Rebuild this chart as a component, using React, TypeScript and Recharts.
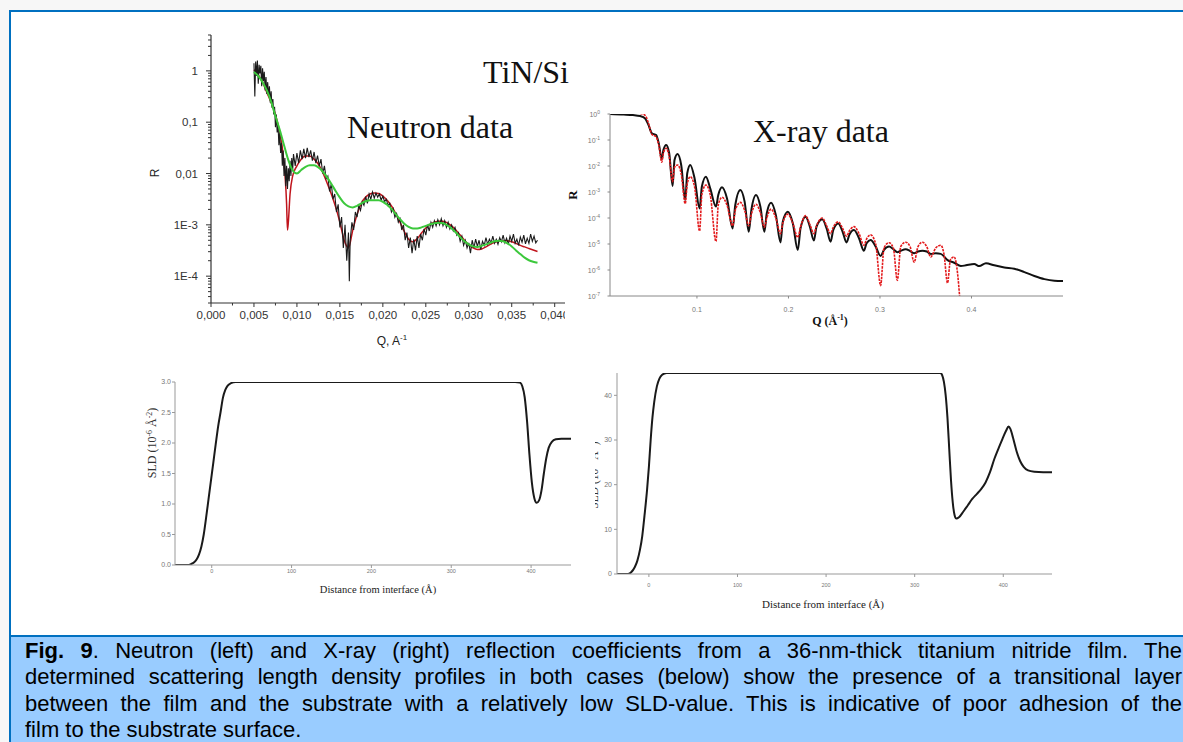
import React from "react";
import { LineChart, Line, XAxis, YAxis } from "recharts";

const SANS = "'Liberation Sans', Arial, sans-serif";
const SERIF = "'Liberation Serif', 'Times New Roman', serif";
const FRAME_BLUE = "#0070c0";
const CAPTION_BG = "#99ccff";

// ---- neutron reflectivity: [Q (1/A), log10 R] ----
const NEUTRON_MEASURED: [number, number][] = [
  [0.005, 0.15], [0.0051, -0.5], [0.0052, 0.18], [0.0053, -0.1], [0.0054, 0.2],
  [0.0055, -0.25], [0.0056, 0.12], [0.0057, -0.05], [0.0058, 0.1], [0.0059, -0.3],
  [0.006, 0.05], [0.0061, -0.2], [0.0062, -0.02], [0.0063, -0.38], [0.0064, -0.12],
  [0.0065, -0.45], [0.0066, -0.22], [0.0067, -0.5], [0.0068, -0.3], [0.0069, -0.62],
  [0.007, -0.4], [0.0071, -0.72], [0.0072, -0.55], [0.0073, -0.85], [0.0074, -0.7],
  [0.0075, -1.1], [0.0076, -0.85], [0.0077, -1.2], [0.0078, -1.05], [0.0079, -1.45],
  [0.008, -1.2], [0.0081, -1.6], [0.0082, -1.4], [0.0083, -1.85], [0.0084, -1.55],
  [0.0085, -2.05], [0.0086, -1.7], [0.0087, -2.25], [0.0088, -1.85], [0.0089, -2.3],
  [0.009, -1.9], [0.0091, -2.15], [0.0092, -1.75], [0.0093, -2.05], [0.0094, -1.7],
  [0.0095, -1.95], [0.0096, -1.62], [0.0098, -1.85], [0.01, -1.6], [0.0102, -1.8],
  [0.0104, -1.55], [0.0106, -1.72], [0.0108, -1.52], [0.011, -1.7], [0.0112, -1.5],
  [0.0114, -1.68], [0.0116, -1.55], [0.0118, -1.75], [0.012, -1.58], [0.0122, -1.8],
  [0.0124, -1.65], [0.0126, -1.85], [0.0128, -1.72], [0.013, -2.0], [0.0132, -1.85],
  [0.0134, -2.1], [0.0136, -2.05], [0.0138, -2.35], [0.014, -2.2], [0.0142, -2.5],
  [0.0144, -2.4], [0.0146, -2.75], [0.0148, -2.6], [0.015, -3.05], [0.0152, -2.85],
  [0.0154, -3.45], [0.0156, -3.0], [0.0158, -3.7], [0.016, -3.15], [0.0161, -4.1],
  [0.0162, -3.3], [0.0164, -2.95], [0.0166, -3.1], [0.0168, -2.75], [0.017, -2.85],
  [0.0172, -2.62], [0.0174, -2.72], [0.0176, -2.55], [0.0178, -2.62], [0.018, -2.45],
  [0.0182, -2.58], [0.0184, -2.4], [0.0186, -2.5], [0.0188, -2.36], [0.019, -2.48],
  [0.0192, -2.38], [0.0194, -2.46], [0.0196, -2.4], [0.0198, -2.52], [0.02, -2.44],
  [0.0202, -2.55], [0.0204, -2.5], [0.0206, -2.62], [0.0208, -2.58], [0.021, -2.75],
  [0.0212, -2.68], [0.0214, -2.85], [0.0216, -2.78], [0.0218, -2.95], [0.022, -2.88],
  [0.0222, -3.1], [0.0224, -3.0], [0.0226, -3.3], [0.0228, -3.15], [0.023, -3.45],
  [0.0232, -3.25], [0.0234, -3.55], [0.0236, -3.28], [0.0238, -3.5], [0.024, -3.22],
  [0.0242, -3.45], [0.0244, -3.18], [0.0246, -3.3], [0.0248, -3.08], [0.025, -3.2],
  [0.0252, -3.0], [0.0254, -3.12], [0.0256, -2.95], [0.0258, -3.05], [0.026, -2.92],
  [0.0262, -3.02], [0.0264, -2.9], [0.0266, -3.0], [0.0268, -2.88], [0.027, -3.02],
  [0.0272, -2.92], [0.0274, -3.05], [0.0276, -2.95], [0.0278, -3.08], [0.028, -3.0],
  [0.0282, -3.12], [0.0284, -3.05], [0.0286, -3.2], [0.0288, -3.15], [0.029, -3.32],
  [0.0292, -3.22], [0.0294, -3.4], [0.0296, -3.3], [0.0298, -3.45], [0.03, -3.35],
  [0.0302, -3.55], [0.0304, -3.3], [0.0306, -3.45], [0.0308, -3.28], [0.031, -3.42],
  [0.0312, -3.3], [0.0314, -3.48], [0.0316, -3.32], [0.0318, -3.4], [0.032, -3.25],
  [0.0322, -3.38], [0.0324, -3.28], [0.0326, -3.35], [0.0328, -3.22], [0.033, -3.36],
  [0.0332, -3.28], [0.0334, -3.38], [0.0336, -3.25], [0.0338, -3.33], [0.034, -3.2],
  [0.0342, -3.35], [0.0344, -3.26], [0.0346, -3.38], [0.0348, -3.22], [0.035, -3.32],
  [0.0352, -3.18], [0.0354, -3.36], [0.0356, -3.28], [0.0358, -3.4], [0.036, -3.24],
  [0.0362, -3.34], [0.0364, -3.2], [0.0366, -3.37], [0.0368, -3.26], [0.037, -3.36],
  [0.0372, -3.18], [0.0374, -3.32], [0.0376, -3.22], [0.0378, -3.35], [0.038, -3.3],
];

const NEUTRON_FIT_RED: [number, number][] = [
  [0.005, 0.02], [0.0055, -0.08], [0.006, -0.22], [0.0065, -0.42], [0.007, -0.62],
  [0.0075, -0.85], [0.008, -1.2], [0.0083, -1.5], [0.0086, -2.0], [0.0088, -2.6],
  [0.0089, -3.1], [0.009, -2.95], [0.0092, -2.4], [0.0095, -2.05], [0.01, -1.85],
  [0.0105, -1.72], [0.011, -1.66], [0.0115, -1.66], [0.012, -1.72], [0.0125, -1.82],
  [0.013, -1.98], [0.0135, -2.18], [0.014, -2.4], [0.0145, -2.65], [0.015, -2.95],
  [0.0155, -3.3], [0.016, -3.45], [0.0165, -3.1], [0.017, -2.8], [0.0175, -2.58],
  [0.018, -2.46], [0.0185, -2.4], [0.019, -2.38], [0.0195, -2.39], [0.02, -2.44],
  [0.0205, -2.52], [0.021, -2.63], [0.0215, -2.78], [0.022, -2.95], [0.0225, -3.13],
  [0.023, -3.28], [0.0235, -3.33], [0.024, -3.27], [0.0245, -3.16], [0.025, -3.06],
  [0.0255, -2.99], [0.026, -2.95], [0.0265, -2.93], [0.027, -2.93], [0.0275, -2.96],
  [0.028, -3.02], [0.0285, -3.1], [0.029, -3.2], [0.0295, -3.3], [0.03, -3.39],
  [0.0305, -3.45], [0.031, -3.48], [0.0315, -3.47], [0.032, -3.43], [0.0325, -3.38],
  [0.033, -3.34], [0.0335, -3.32], [0.034, -3.31], [0.0345, -3.31], [0.035, -3.33],
  [0.0355, -3.36], [0.036, -3.4], [0.0365, -3.43], [0.037, -3.46], [0.0375, -3.49],
  [0.038, -3.52],
];

const NEUTRON_FIT_GREEN: [number, number][] = [
  [0.005, -0.02], [0.0055, -0.1], [0.006, -0.22], [0.0065, -0.38], [0.007, -0.6],
  [0.0075, -0.88], [0.008, -1.15], [0.0085, -1.45], [0.009, -1.74], [0.0095, -1.94],
  [0.01, -2.0], [0.0105, -1.93], [0.011, -1.87], [0.0115, -1.84], [0.012, -1.84],
  [0.0125, -1.88], [0.013, -1.96], [0.0135, -2.07], [0.014, -2.2], [0.0145, -2.34],
  [0.015, -2.47], [0.0155, -2.58], [0.016, -2.64], [0.0165, -2.66], [0.017, -2.63],
  [0.0175, -2.58], [0.018, -2.54], [0.0185, -2.52], [0.019, -2.52], [0.0195, -2.52],
  [0.02, -2.55], [0.0205, -2.61], [0.021, -2.69], [0.0215, -2.79], [0.022, -2.89],
  [0.0225, -2.98], [0.023, -3.04], [0.0235, -3.07], [0.024, -3.07], [0.0245, -3.05],
  [0.025, -3.02], [0.0255, -2.99], [0.026, -2.97], [0.0265, -2.96], [0.027, -2.97],
  [0.0275, -3.01], [0.028, -3.07], [0.0285, -3.15], [0.029, -3.24], [0.0295, -3.32],
  [0.03, -3.38], [0.0305, -3.42], [0.031, -3.43], [0.0315, -3.41], [0.032, -3.38],
  [0.0325, -3.35], [0.033, -3.32], [0.0335, -3.31], [0.034, -3.32], [0.0345, -3.36],
  [0.035, -3.42], [0.0355, -3.5], [0.036, -3.57], [0.0365, -3.64], [0.037, -3.69],
  [0.0375, -3.72], [0.038, -3.74],
];

const NEUTRON_Q_TICKS = [
  0, 0.0025, 0.005, 0.0075, 0.01, 0.0125, 0.015, 0.0175, 0.02,
  0.0225, 0.025, 0.0275, 0.03, 0.0325, 0.035, 0.0375, 0.04,
];
const NEUTRON_R_DECADES = [-5, -4, -3, -2, -1, 0];
const NEUTRON_R_LABELS: Record<number, string> = {
  [-4]: "1E-4", [-3]: "1E-3", [-2]: "0,01", [-1]: "0,1", 0: "1",
};

// ---- X-ray reflectivity: [Q (1/A), log10 R] ----
const XRAY_FIT: [number, number][] = [
  [0.005, 0.0], [0.02, -0.02], [0.03, -0.04], [0.038, -0.08], [0.0434, -0.17],
  [0.047, -0.42], [0.0507, -0.74], [0.0554, -0.81], [0.0583, -1.13], [0.0616, -1.74],
  [0.0634, -1.38], [0.0664, -1.19], [0.0697, -1.51], [0.0734, -2.77], [0.0755, -1.77],
  [0.0788, -1.54], [0.0828, -1.96], [0.0872, -3.31], [0.0894, -2.28], [0.0927, -1.96],
  [0.0974, -2.47], [0.1029, -3.63], [0.1054, -2.79], [0.1098, -2.41], [0.1145, -2.86],
  [0.1208, -3.56], [0.1233, -3.12], [0.1274, -2.82], [0.1328, -3.24], [0.139, -4.4],
  [0.1419, -3.5], [0.1474, -2.92], [0.1521, -3.37], [0.1566, -4.53], [0.1595, -3.69],
  [0.1646, -3.12], [0.1693, -3.56], [0.1737, -4.53], [0.1763, -3.82], [0.181, -3.41],
  [0.1862, -3.88], [0.1913, -4.94], [0.1938, -4.14], [0.1993, -3.76], [0.2048, -4.21],
  [0.2102, -5.23], [0.2132, -4.4], [0.2187, -3.95], [0.2234, -4.33], [0.2278, -4.87],
  [0.2307, -4.33], [0.2369, -4.05], [0.2417, -4.4], [0.246, -4.91], [0.249, -4.46],
  [0.2544, -4.21], [0.2592, -4.53], [0.2635, -4.94], [0.2665, -4.65], [0.2716, -4.46],
  [0.2771, -4.78], [0.2825, -5.26], [0.2854, -4.97], [0.2898, -4.85], [0.2953, -5.1],
  [0.3007, -5.46], [0.3044, -5.23], [0.3099, -5.1], [0.3146, -5.2], [0.319, -5.32],
  [0.3227, -5.26], [0.3281, -5.2], [0.3329, -5.27], [0.3373, -5.36], [0.3416, -5.29],
  [0.3464, -5.26], [0.3511, -5.29], [0.3555, -5.38], [0.361, -5.36], [0.3664, -5.38],
  [0.3738, -5.62], [0.3811, -5.72], [0.3884, -5.85], [0.3939, -5.82], [0.403, -5.77],
  [0.4085, -5.85], [0.4158, -5.74], [0.4249, -5.82], [0.4359, -5.9], [0.4468, -5.95],
  [0.4578, -6.08], [0.4687, -6.23], [0.4797, -6.35], [0.4906, -6.41], [0.5, -6.42],
];

const XRAY_MEASURED: [number, number][] = [
  [0.038, 0.02], [0.0434, -0.05], [0.047, -0.35], [0.0507, -0.78], [0.0554, -0.88],
  [0.0583, -1.2], [0.0616, -1.85], [0.0634, -1.5], [0.0664, -1.32], [0.0697, -1.65],
  [0.0734, -2.6], [0.0755, -2.05], [0.0788, -1.96], [0.0828, -2.3], [0.0872, -3.45],
  [0.0894, -2.7], [0.0927, -2.41], [0.0974, -2.8], [0.1029, -4.5], [0.1054, -3.1],
  [0.1098, -2.73], [0.1145, -3.1], [0.1208, -4.9], [0.1233, -3.5], [0.1274, -3.2],
  [0.1328, -3.5], [0.139, -4.3], [0.1419, -3.7], [0.1474, -3.4], [0.1521, -3.7],
  [0.1566, -4.3], [0.1595, -3.85], [0.1646, -3.47], [0.1693, -3.8], [0.1737, -4.35],
  [0.1763, -4.0], [0.181, -3.66], [0.1862, -4.0], [0.1913, -4.6], [0.1938, -4.2],
  [0.1993, -3.85], [0.2048, -4.2], [0.2102, -4.75], [0.2132, -4.35], [0.2187, -3.91],
  [0.2234, -4.25], [0.2278, -4.6], [0.2307, -4.3], [0.2369, -4.0], [0.2417, -4.3],
  [0.246, -4.6], [0.249, -4.35], [0.2544, -4.15], [0.2592, -4.4], [0.2635, -4.7],
  [0.2665, -4.5], [0.2716, -4.33], [0.2771, -4.6], [0.2825, -5.05], [0.2854, -4.8],
  [0.2898, -4.65], [0.2953, -5.0], [0.3007, -6.6], [0.3044, -5.15], [0.3099, -4.95],
  [0.3146, -5.15], [0.319, -6.4], [0.3227, -5.1], [0.3281, -4.93], [0.3329, -5.1],
  [0.3373, -5.7], [0.3416, -5.1], [0.3464, -4.93], [0.3511, -5.1], [0.3555, -5.5],
  [0.361, -5.15], [0.3664, -5.05], [0.37, -5.4], [0.3738, -6.5], [0.377, -5.6],
  [0.3811, -5.5], [0.385, -6.2], [0.387, -7.0],
];

const XRAY_Q_TICKS = [0.1, 0.2, 0.3, 0.4];
const XRAY_R_TICKS = [1e-7, 1e-6, 1e-5, 1e-4, 1e-3, 1e-2, 1e-1, 1];

// ---- SLD profiles: [distance (A), SLD] ----
const SLD_NEUTRON: [number, number][] = [
  [-46, 0], [-30, 0.0], [-26, 0.015], [-22, 0.045], [-19, 0.09], [-16, 0.17],
  [-13, 0.3], [-10, 0.5], [-7, 0.78], [-4, 1.08], [-1, 1.38], [2, 1.68], [5, 1.98],
  [8, 2.27], [11, 2.5], [14, 2.74], [17, 2.87], [20, 2.94], [24, 2.98], [30, 3.0],
  [380, 3.0], [386, 2.99], [389, 2.93], [392, 2.75], [395, 2.35], [398, 1.8],
  [401, 1.35], [404, 1.1], [407, 1.02], [410, 1.06], [413, 1.22], [416, 1.5],
  [419, 1.75], [422, 1.92], [426, 2.02], [431, 2.06], [438, 2.07], [450, 2.07],
];
const SLD_NEUTRON_TICKS_X = [0, 100, 200, 300, 400];
const SLD_NEUTRON_TICKS_Y = [0, 0.5, 1, 1.5, 2, 2.5, 3];

const SLD_XRAY: [number, number][] = [
  [-36, 0], [-24, 0], [-20, 0.4], [-16, 1.5], [-13, 3], [-10, 5.5], [-7.5, 8.5],
  [-5, 13], [-2, 19], [0, 24], [2, 30], [4, 35], [6, 38.5], [9, 42], [12, 43.8],
  [15, 44.6], [20, 45], [329, 45], [331, 44.5], [333, 43], [335, 40], [337, 35],
  [339, 28], [341, 21], [343, 16], [345, 13.2], [347, 12.4], [350, 12.7], [355, 14],
  [360, 15.4], [365, 16.8], [370, 17.9], [375, 19], [380, 20.5], [385, 22.8],
  [390, 25.8], [395, 28.3], [399, 30.2], [403, 32], [406, 33], [408, 32.5],
  [411, 30.5], [415, 27.5], [419, 25.3], [423, 24], [428, 23.2], [435, 22.9],
  [445, 22.8], [455, 22.8],
];
const SLD_XRAY_TICKS_X = [0, 100, 200, 300, 400];
const SLD_XRAY_TICKS_Y = [0, 10, 20, 30, 40];

const CAPTION_LINES = [
  "determined scattering length density profiles in both cases (below) show the presence of a transitional layer",
  "between the film and the substrate with a relatively low SLD-value. This is indicative of poor adhesion of the",
];

const fromLog = (rows: [number, number][]) => rows.map(([q, lg]) => ({ q, r: Math.pow(10, lg) }));
const toRows = (rows: [number, number][]) => rows.map(([d, v]) => ({ d, v }));

const neutronMeasured = fromLog(NEUTRON_MEASURED);
const neutronRed = fromLog(NEUTRON_FIT_RED);
const neutronGreen = fromLog(NEUTRON_FIT_GREEN);
const xrayFit = fromLog(XRAY_FIT);
const xrayMeasured = fromLog(XRAY_MEASURED);
const neutronRTicks = NEUTRON_R_DECADES.flatMap((e) =>
  [1, 2, 3, 4, 5, 6, 7, 8, 9].map((m) => m * Math.pow(10, e))
).filter((v) => v >= 2.9e-5 && v <= 5.01);

function NeutronYTick({ x, y, payload }: any) {
  const e = Math.log10(payload.value);
  const major = Math.abs(e - Math.round(e)) < 1e-6;
  return (
    <g>
      <line x1={x} x2={x - (major ? 5 : 3)} y1={y} y2={y} stroke="#333" strokeWidth={1} />
      {major && (
        <text x={x - 13} y={y + 4} textAnchor="end" fontSize={11.5} fill="#333" fontFamily={SANS}>
          {NEUTRON_R_LABELS[Math.round(e)]}
        </text>
      )}
    </g>
  );
}

function NeutronXTick({ x, y, payload }: any) {
  const v = payload.value as number;
  const major = Math.abs(v / 0.005 - Math.round(v / 0.005)) < 1e-6;
  return (
    <g>
      <line x1={x} x2={x} y1={y} y2={y + (major ? 4 : 2.5)} stroke="#333" strokeWidth={1} />
      {major && (
        <text x={x} y={y + 16} textAnchor="middle" fontSize={11.5} fill="#333" fontFamily={SANS}>
          {v.toFixed(3).replace(".", ",")}
        </text>
      )}
    </g>
  );
}

function XrayYTick({ x, y, payload }: any) {
  const e = Math.round(Math.log10(payload.value));
  return (
    <g>
      <line x1={x} x2={x - 2.5} y1={y} y2={y} stroke="#888" />
      <text x={x - 10} y={y + 2.5} textAnchor="end" fontSize={7} fill="#777" fontFamily={SANS}>
        10<tspan dy={-3} fontSize={5}>{e}</tspan>
      </text>
    </g>
  );
}

function XrayXTick({ x, y, payload }: any) {
  return (
    <g>
      <line x1={x} x2={x} y1={y} y2={y + 2.5} stroke="#888" />
      <text x={x} y={y + 16} textAnchor="middle" fontSize={7} fill="#777" fontFamily={SANS}>
        {payload.value.toFixed(1)}
      </text>
    </g>
  );
}

function NeutronPanel() {
  return (
    <div style={{ position: "absolute", left: 140, top: 25 }}>
      <LineChart width={440} height={330} margin={{ top: 10, right: 15, bottom: 12, left: 11 }}>
        <XAxis
          type="number"
          dataKey="q"
          domain={[0, 0.0412]}
          allowDataOverflow
          ticks={NEUTRON_Q_TICKS}
          interval={0}
          tickSize={0}
          tickMargin={0}
          tickLine={false}
          tick={(p: any) => <NeutronXTick {...p} />}
          stroke="#333"
          strokeWidth={1.2}
          height={40}
        />
        <YAxis
          type="number"
          dataKey="r"
          scale="log"
          domain={[3e-5, 5]}
          allowDataOverflow
          ticks={neutronRTicks}
          interval={0}
          tickSize={0}
          tickMargin={0}
          tickLine={false}
          tick={(p: any) => <NeutronYTick {...p} />}
          stroke="#333"
          strokeWidth={1.2}
          width={60}
        />
        <Line data={neutronRed} dataKey="r" type="monotone" stroke="#c0141c" strokeWidth={1.5} dot={false} isAnimationActive={false} />
        <Line data={neutronMeasured} dataKey="r" type="linear" stroke="#1b1b1b" strokeWidth={1.1} dot={false} isAnimationActive={false} />
        <Line data={neutronGreen} dataKey="r" type="monotone" stroke="#3cc83c" strokeWidth={2} dot={false} isAnimationActive={false} />
      </LineChart>
    </div>
  );
}

function XrayPanel() {
  return (
    <div style={{ position: "absolute", left: 565, top: 95, background: "#fff" }}>
      <LineChart width={505} height={240} margin={{ top: 19, right: 7, bottom: 19, left: 7 }}>
        <XAxis
          type="number"
          dataKey="q"
          domain={[0.005, 0.5]}
          allowDataOverflow
          ticks={XRAY_Q_TICKS}
          interval={0}
          tickSize={0}
          tickMargin={0}
          tickLine={false}
          tick={(p: any) => <XrayXTick {...p} />}
          stroke="#888"
          height={20}
        />
        <YAxis
          type="number"
          dataKey="r"
          scale="log"
          domain={[1e-7, 1]}
          allowDataOverflow
          ticks={XRAY_R_TICKS}
          interval={0}
          tickSize={0}
          tickMargin={0}
          tickLine={false}
          tick={(p: any) => <XrayYTick {...p} />}
          stroke="#888"
          width={38}
        />
        <Line data={xrayFit} dataKey="r" type="monotone" stroke="#111" strokeWidth={2} dot={false} isAnimationActive={false} />
        <Line data={xrayMeasured} dataKey="r" type="monotone" stroke="#e31a1c" strokeWidth={1.6} strokeDasharray="2.5 1" dot={false} isAnimationActive={false} />
      </LineChart>
    </div>
  );
}

function SldNeutronPanel() {
  return (
    <div style={{ position: "absolute", left: 130, top: 370, background: "#fff" }}>
      <LineChart width={465} height={235} margin={{ top: 12, right: 24, bottom: 20, left: 10 }}>
        <XAxis
          type="number"
          dataKey="d"
          domain={[-46, 450]}
          allowDataOverflow
          ticks={SLD_NEUTRON_TICKS_X}
          interval={0}
          tickSize={3}
          tickMargin={1}
          tick={{ fontSize: 5.5, fill: "#777", fontFamily: SANS }}
          stroke="#999"
          height={20}
        />
        <YAxis
          type="number"
          domain={[0, 3]}
          allowDataOverflow
          ticks={SLD_NEUTRON_TICKS_Y}
          interval={0}
          tickSize={3}
          tickMargin={1}
          tickFormatter={(v: number) => v.toFixed(1)}
          tick={{ fontSize: 7, fill: "#777", fontFamily: SANS }}
          stroke="#999"
          width={35}
        />
        <Line data={toRows(SLD_NEUTRON)} dataKey="v" type="monotone" stroke="#1a1a1a" strokeWidth={2} dot={false} isAnimationActive={false} />
      </LineChart>
    </div>
  );
}

function SldXrayPanel() {
  return (
    <div style={{ position: "absolute", left: 590, top: 360 }}>
      <LineChart width={468} height={255} margin={{ top: 13, right: 6, bottom: 19, left: 9 }}>
        <XAxis
          type="number"
          dataKey="d"
          domain={[-36, 455]}
          allowDataOverflow
          ticks={SLD_XRAY_TICKS_X}
          interval={0}
          tickSize={3}
          tickMargin={6}
          tick={{ fontSize: 5.5, fill: "#777", fontFamily: SANS }}
          stroke="#999"
          height={22}
        />
        <YAxis
          type="number"
          domain={[0, 45]}
          allowDataOverflow
          ticks={SLD_XRAY_TICKS_Y}
          interval={0}
          tickSize={3}
          tickMargin={2}
          tick={{ fontSize: 7, fill: "#777", fontFamily: SANS }}
          stroke="#999"
          width={18}
        />
        <Line data={toRows(SLD_XRAY)} dataKey="v" type="monotone" stroke="#1a1a1a" strokeWidth={2} dot={false} isAnimationActive={false} />
      </LineChart>
    </div>
  );
}

function SldLabel({ cx, cy, size }: { cx: number; cy: number; size: number }) {
  return (
    <text transform={`translate(${cx},${cy}) rotate(-90)`} textAnchor="middle" fontSize={size} fill="#333" fontFamily={SERIF}>
      SLD (10<tspan dy={-4} fontSize={size * 0.65}>-6</tspan>
      <tspan dy={4}> Å</tspan>
      <tspan dy={-4} fontSize={size * 0.65}>-2</tspan>
      <tspan dy={4}>)</tspan>
    </text>
  );
}

export default function App() {
  const justified: React.CSSProperties = {
    whiteSpace: "nowrap",
    textAlign: "justify",
    textAlignLast: "justify",
  };
  return (
    <div style={{ position: "fixed", left: 0, top: 0, width: 1183, height: 742, background: "#f7f7f7", overflow: "hidden" }}>
      {/* framed figure area */}
      <div
        style={{
          position: "absolute", left: 9, top: 10, width: 1200, height: 760,
          background: "#fff", borderLeft: `2px solid ${FRAME_BLUE}`, borderTop: `2px solid ${FRAME_BLUE}`,
        }}
      />

      {/* y title of the X-ray SLD panel sits under the neutron SLD panel */}
      <svg style={{ position: "absolute", left: 0, top: 0 }} width={1183} height={742}>
        <SldLabel cx={598} cy={475} size={11.5} />
      </svg>

      <SldXrayPanel />
      <SldNeutronPanel />
      <NeutronPanel />
      <XrayPanel />

      {/* annotations and axis titles */}
      <svg style={{ position: "absolute", left: 0, top: 0, pointerEvents: "none" }} width={1183} height={742}>
        <text x={483} y={83} fontSize={32} fontFamily={SERIF} fill="#111">TiN/Si</text>
        <text x={347} y={138} fontSize={32} fontFamily={SERIF} fill="#111">Neutron data</text>
        <text x={753} y={142} fontSize={32} fontFamily={SERIF} fill="#111">X-ray data</text>

        <text transform="translate(159,173) rotate(-90)" textAnchor="middle" fontSize={12} fontFamily={SANS} fill="#222">R</text>
        <text x={392} y={345} textAnchor="middle" fontSize={12} fontFamily={SANS} fill="#222">
          Q, A<tspan dy={-5} fontSize={8}>-1</tspan>
        </text>

        <text transform="translate(577,195) rotate(-90)" textAnchor="middle" fontSize={13} fontWeight="bold" fontFamily={SERIF} fill="#111">R</text>
        <text x={830} y={325} textAnchor="middle" fontSize={12} fontWeight="bold" fontFamily={SERIF} fill="#111">
          Q (Å<tspan dy={-5} fontSize={8}>-1</tspan><tspan dy={5}>)</tspan>
        </text>

        <SldLabel cx={156} cy={443} size={12} />
        <text x={378} y={593} textAnchor="middle" fontSize={10.5} fontFamily={SERIF} fill="#222">Distance from interface (Å)</text>
        <text x={823} y={608} textAnchor="middle" fontSize={11} fontFamily={SERIF} fill="#222">Distance from interface (Å)</text>
      </svg>

      {/* caption */}
      <div style={{ position: "absolute", left: 11, top: 635, width: 1180, height: 2, background: FRAME_BLUE }} />
      <div style={{ position: "absolute", left: 11, top: 637, width: 1180, height: 110, background: CAPTION_BG }} />
      <div
        style={{
          position: "absolute", left: 25, top: 638, width: 1157,
          fontFamily: SANS, fontSize: 22, lineHeight: "26.3px", color: "#000",
        }}
      >
        <div style={justified}>
          <b>Fig. 9</b>. Neutron (left) and X-ray (right) reflection coefficients from a 36-nm-thick titanium nitride film. The
        </div>
        {CAPTION_LINES.map((t) => (
          <div key={t} style={justified}>{t}</div>
        ))}
        <div style={{ whiteSpace: "nowrap" }}>film to the substrate surface.</div>
      </div>
    </div>
  );
}
